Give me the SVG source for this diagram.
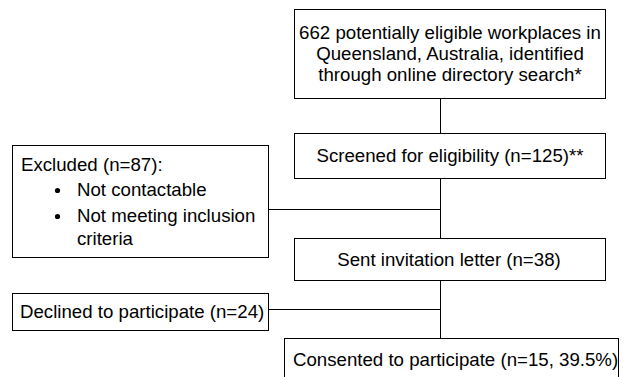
<svg xmlns="http://www.w3.org/2000/svg" width="625" height="377" viewBox="0 0 625 377">
<style>
.box{fill:#fff;stroke:#000;stroke-width:1}
.t{font-family:"Liberation Sans",Arial,sans-serif;font-size:18.67px;fill:#000}
.c{text-anchor:middle}
.ln{stroke:#000;stroke-width:1;fill:none}
</style>
<rect width="625" height="377" fill="#fff"/>
<g id="connectors">
<path class="ln" d="M440.5 98V133M440.5 178V238M268 209.5H440.5M440.5 280V338M268 309.5H440.5"/>
</g>
<g id="identified">
<rect class="box" x="294.5" y="9.5" width="311" height="89"/>
<text class="t c" x="450" y="39">662 potentially eligible workplaces in</text>
<text class="t c" x="450" y="60">Queensland, Australia, identified</text>
<text class="t c" x="450" y="81">through online directory search*</text>
</g>
<g id="screened">
<rect class="box" x="294.5" y="133.5" width="311" height="45"/>
<text class="t c" x="450" y="162">Screened for eligibility (n=125)**</text>
</g>
<g id="excluded">
<rect class="box" x="12.5" y="145.5" width="256" height="112"/>
<text class="t" x="21" y="171">Excluded (n=87):</text>
<circle cx="57.5" cy="190.5" r="2.6"/>
<text class="t" x="77" y="196">Not contactable</text>
<circle cx="57.5" cy="216.5" r="2.6"/>
<text class="t" x="77" y="222">Not meeting inclusion</text>
<text class="t" x="77" y="245">criteria</text>
</g>
<g id="sent">
<rect class="box" x="294.5" y="238.5" width="311" height="42"/>
<text class="t c" x="449" y="266">Sent invitation letter (n=38)</text>
</g>
<g id="declined">
<rect class="box" x="12.5" y="293.5" width="256" height="37"/>
<text class="t" x="20" y="318">Declined to participate (n=24)</text>
</g>
<g id="consented">
<rect class="box" x="284.5" y="338.5" width="334" height="50"/>
<text class="t" x="293" y="366">Consented to participate (n=15, 39.5%)</text>
</g>
</svg>
